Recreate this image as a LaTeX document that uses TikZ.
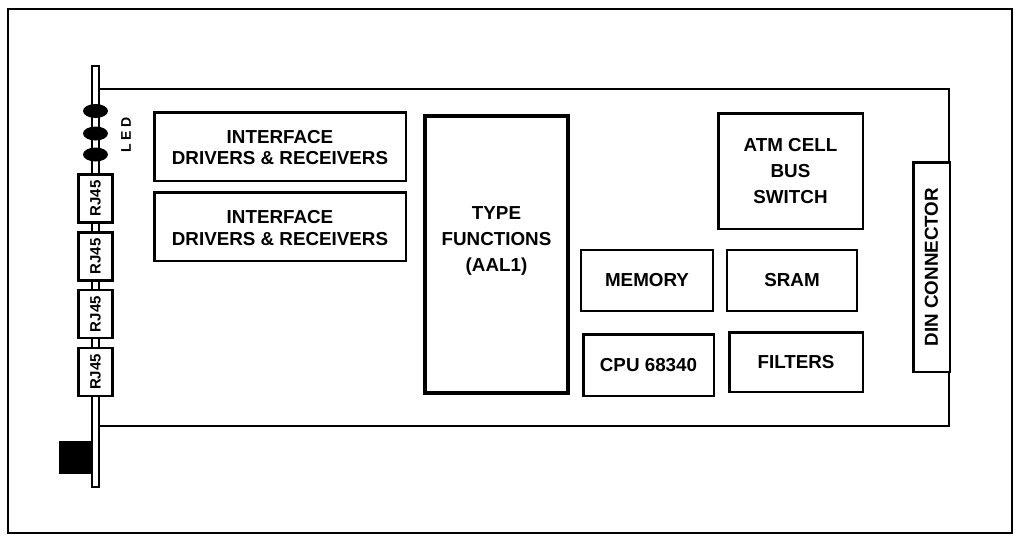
\documentclass[tikz,border=0pt]{standalone}
\usepackage{fontspec}
\setmainfont{Liberation Sans}
\usepackage{graphicx}
\usetikzlibrary{positioning,
shapes.geometric}

\begin{document}
\begin{tikzpicture}[
x=0.5pt, y=-0.5pt,
block/.style={
draw,
fill=white,
line width=1.3pt,
align=center,
inner sep=0pt,
font=\fontsize{9.4}{10.75}\selectfont\bfseries
},
tallblock/.style={
block,
font=\fontsize{9.4}{13}\selectfont\bfseries
},
jack/.style={
draw,
fill=white,
line width=1.3pt,
minimum width=17pt,
minimum height=24pt,
inner sep=0pt,
font=\fontsize{7.5}{8}\selectfont\bfseries
},
led/.style={
ellipse,
fill=black,
minimum width=12.5pt,
minimum height=7pt,
inner sep=0pt
}
]
\useasboundingbox (0,0) rectangle (1015,535);

% Frame and board
\draw[line width=1pt] (8,9) rectangle (1012,533);
\draw[line width=0.7pt] (99,89) -| (949,426) -- (99,426);

% Front panel
\draw[line width=0.6pt, fill=white] (92,66) rectangle (99,487);
\fill (59,441) rectangle (92,474);

% LEDs
\node[led] (led1) at (95.5,111) {};
\node[led] (led2) at (95.5,133.5) {};
\node[led] (led3) at (95.5,154.5) {};
\node[rotate=90, font=\fontsize{7}{8}\selectfont\bfseries\addfontfeature{LetterSpace=25}]
(ledtext) at (126,135) {LED};

% RJ45 jacks
\node[jack] (rj1) at (95.5,198.5) {\rotatebox{90}{RJ45}};
\node[jack, below=3.6pt of rj1] (rj2) {\rotatebox{90}{RJ45}};
\node[jack, below=3.6pt of rj2] (rj3) {\rotatebox{90}{RJ45}};
\node[jack, below=3.6pt of rj3] (rj4) {\rotatebox{90}{RJ45}};

% Interface blocks
\node[block, minimum width=125.8pt, minimum height=34.3pt] (iface1) at (280,146.5)
{\\[-3pt]INTERFACE\\DRIVERS \& RECEIVERS};
\node[block, minimum width=125.8pt, minimum height=34.3pt, below=4.5pt of iface1] (iface2)
{\\[-3pt]INTERFACE\\DRIVERS \& RECEIVERS};

% Type functions
\node[tallblock, line width=2pt, minimum width=71.5pt, minimum height=138.5pt] (typefn)
at (496.5,254.5) {TYPE\\FUNCTIONS\\(AAL1)\\[2pt]};

% Right side
\node[tallblock, minimum width=72.3pt, minimum height=57.8pt] (atm) at (790.5,171)
{ATM CELL\\BUS\\SWITCH};

\node[block, line width=1pt, minimum width=66pt, minimum height=30.5pt] (memory)
at (647,280.5) {MEMORY};
\node[block, line width=1pt, minimum width=65pt, minimum height=30.5pt, right=6pt of memory]
(sram) {SRAM};

\node[block, minimum width=65.3pt, minimum height=30.8pt] (cpu) at (648.5,365) {CPU 68340};
\node[block, minimum width=66.8pt, minimum height=29.8pt] (filters) at (796,362) {FILTERS};

% Connector
\node[block, minimum width=18.3pt, minimum height=104.8pt] (din) at (931.5,267)
{\rotatebox{90}{DIN CONNECTOR}};

\end{tikzpicture}
\end{document}
